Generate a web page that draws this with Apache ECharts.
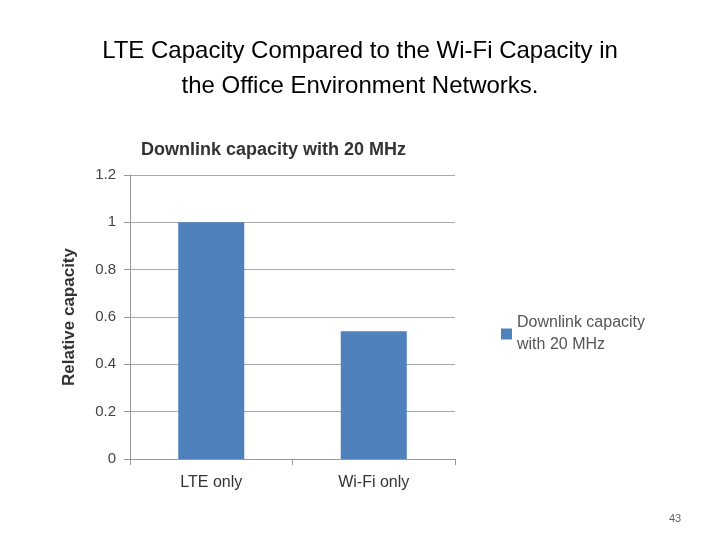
<!DOCTYPE html>
<html><head><meta charset="utf-8">
<script src="https://cdn.jsdelivr.net/npm/echarts@6/dist/echarts.min.js"></script>
<style>html,body{margin:0;padding:0;background:#fff}#c{width:720px;height:540px}</style>
</head><body><div id="c"></div>
<script>
const categories = ['LTE only', 'Wi-Fi only'];
const values = [1, 0.54];
const yTicks = ['0', '0.2', '0.4', '0.6', '0.8', '1', '1.2'];
const seriesName = 'Downlink capacity with 20 MHz';
const chart = echarts.init(document.getElementById('c'));
chart.setOption({
  animation: false,
  textStyle: {fontFamily: 'Liberation Sans, Arial, sans-serif'},
  title: [
    {text: 'LTE Capacity Compared to the Wi-Fi Capacity in\nthe Office Environment Networks.', left: 'center', top: 29,
     textStyle: {fontSize: 24, fontWeight: 'normal', color: '#000', lineHeight: 35}},
    {text: 'Downlink capacity with 20 MHz', left: 136, top: 136,
     textStyle: {fontSize: 18, fontWeight: 'bold', color: '#333'}},
    {text: '43', left: 664, top: 508, textStyle: {fontSize: 11, fontWeight: 'normal', color: '#666'}}
  ],
  grid: {left: 130, top: 175, width: 325, height: 284},
  legend: {left: 496, top: 307, orient: 'vertical', itemWidth: 11, itemHeight: 11, itemGap: 4,
    icon: 'rect', data: [seriesName],
    formatter: () => 'Downlink capacity\nwith 20 MHz',
    textStyle: {fontSize: 16, color: '#555', lineHeight: 22}},
  xAxis: {type: 'category', data: categories,
    axisLine: {lineStyle: {color: '#999'}},
    axisTick: {show: true, alignWithLabel: false, length: 6, lineStyle: {color: '#999'}},
    axisLabel: {fontSize: 16, color: '#333', margin: 16}},
  yAxis: {type: 'value', min: 0, max: 1.2, interval: 0.2,
    name: 'Relative capacity', nameLocation: 'middle', nameGap: 52,
    nameTextStyle: {fontSize: 17, fontWeight: 'bold', color: '#333'},
    axisLine: {show: true, lineStyle: {color: '#999'}},
    axisTick: {show: true, length: 6, inside: false, lineStyle: {color: '#999'}},
    axisLabel: {fontSize: 15, color: '#444', margin: 14, formatter: v => yTicks[Math.round(v / 0.2)]},
    splitLine: {lineStyle: {color: '#aaa'}}},
  series: [{name: seriesName, type: 'bar', data: values, barWidth: 66,
    itemStyle: {color: '#4f81bd'}}]
});
</script></body></html>
